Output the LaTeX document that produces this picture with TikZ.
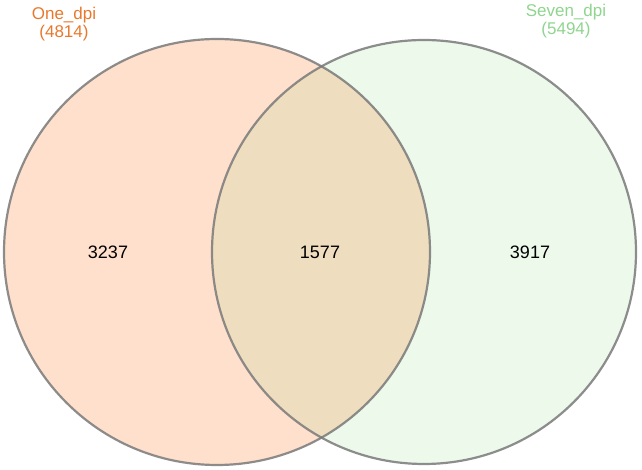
\documentclass[tikz,border=0pt]{standalone}
\usepackage{fontspec}
\setmainfont{Liberation Sans}
\definecolor{leftfill}{HTML}{FFE0CC}
\definecolor{rightfill}{HTML}{ECF9EB}
\definecolor{midfill}{HTML}{EFDDBF}
\definecolor{ringgray}{HTML}{7A7A7A}
\definecolor{onecol}{HTML}{E8782C}
\definecolor{sevencol}{HTML}{8FD48F}
\begin{document}
\begin{tikzpicture}[x=1pt,y=1pt,
  ring/.style={draw=ringgray,line width=2.2pt,draw opacity=0.85},
  lbl/.style={font=\fontsize{17}{18}\selectfont,align=center,inner sep=0pt},
  num/.style={font=\fontsize{18}{20}\selectfont,inner sep=0pt,text=black}]
\useasboundingbox (0,0) rectangle (642,470);
\coordinate (cl) at (217,218);
\coordinate (cr) at (424,218);
\fill[leftfill] (cl) circle (213);
\fill[rightfill] (cr) circle (212);
\begin{scope}
  \clip (cl) circle (213);
  \fill[midfill] (cr) circle (212);
\end{scope}
\draw[ring] (cl) circle (213);
\draw[ring] (cr) circle (212);
\node[lbl,text=onecol] (onelbl) at (64,446) {One\_dpi\\(4814)};
\node[lbl,text=sevencol] (sevenlbl) at (566,449) {Seven\_dpi\\(5494)};
\node[num] (a) at (108,218) {3237};
\node[num] (b) at (320,218) {1577};
\node[num] (c) at (530,218) {3917};
\end{tikzpicture}
\end{document}
